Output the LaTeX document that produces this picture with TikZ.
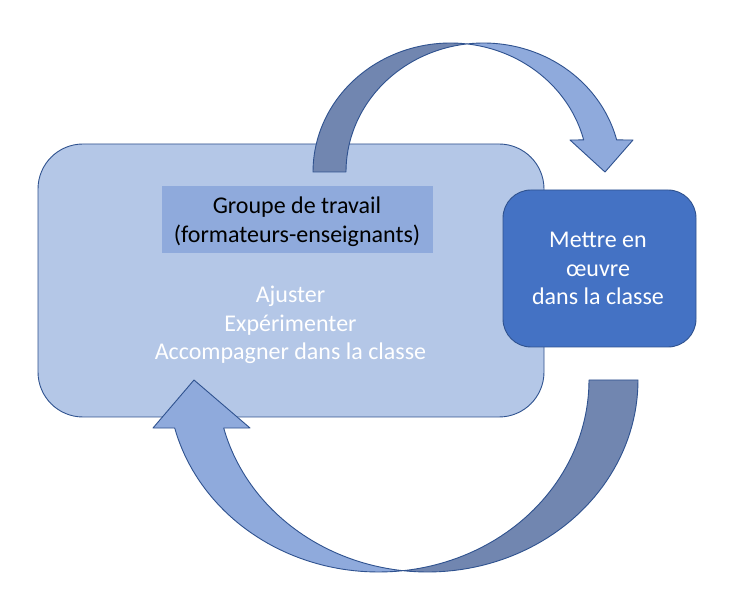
\documentclass[tikz,border=0pt]{standalone}
\usepackage{fontspec}
\setmainfont{Carlito}
\usepackage{tikz}
\definecolor{fondclair}{HTML}{B4C7E7}
\definecolor{bleumoyen}{HTML}{8FAADC}
\definecolor{bleufonce}{HTML}{4472C4}
\definecolor{contour}{HTML}{2F528F}
\definecolor{ombre}{HTML}{7186B0}

\begin{document}
\begin{tikzpicture}[line cap=round,line join=round,x=1pt,y=-1pt,
    texte/.style={anchor=base,inner sep=0pt,font=\fontsize{24}{29}\selectfont},
    fleche/.style={draw=contour,line width=0.9pt}]

    \fill[white] (0,0) rectangle (731,609);
    \useasboundingbox (0,0) rectangle (731,609);

    % grand cadre
    \node[draw=contour,line width=0.9pt,fill=fondclair,rounded corners=45pt,
          minimum width=506pt,minimum height=273pt] (groupe) at (291,280.5) {};
    \node[fill=bleumoyen,minimum width=271pt,minimum height=67pt] (titre) at (297.5,219.5) {};
    \node[texte] (t1) at (297,214) {Groupe de travail};
    \node[texte] (t2) at (297,243) {(formateurs-enseignants)};

    \node[texte,white] (a1) at (290.5,303) {Ajuster};
    \node[texte,white] (a2) at (290.5,332) {Expérimenter};
    \node[texte,white] (a3) at (290.5,360) {Accompagner dans la classe};

    % cadre de droite
    \node[draw=contour,line width=0.9pt,fill=bleufonce,rounded corners=28pt,
          minimum width=193pt,minimum height=157pt] (classe) at (599.5,268.5) {};
    \node[texte,white] (m1) at (598,248) {Mettre en};
    \node[texte,white] (m2) at (598,277) {œuvre};
    \node[texte,white] (m3) at (598,305) {dans la classe};

    % fleche du haut
    \draw[fleche,fill=ombre] plot[domain=180:276.9,samples=50] ({450.5+137.5*cos(\x)},{172+129*sin(\x)})
        -- plot[domain=263.1:180,samples=50] ({483.5+137.5*cos(\x)},{172+129*sin(\x)}) -- cycle;
    \draw[fleche,fill=bleumoyen] plot[domain=263.1:345.6,samples=50] ({483.5+137.5*cos(\x)},{172+129*sin(\x)})
        -- (633,140) -- (605,172) -- (570,140)
        -- plot[domain=345.6:276.9,samples=50] ({450.5+137.5*cos(\x)},{172+129*sin(\x)}) -- cycle;

    % fleche du bas
    \draw[fleche,fill=ombre] plot[domain=0:96.68,samples=50] ({427.5+210.5*cos(\x)},{380+192*sin(\x)})
        -- plot[domain=83.32:0,samples=50] ({378.5+210.5*cos(\x)},{380+192*sin(\x)}) -- cycle;
    \draw[fleche,fill=bleumoyen] plot[domain=83.32:165.52,samples=50] ({378.5+210.5*cos(\x)},{380+192*sin(\x)})
        -- (153,428) -- (194,380) -- (250,428)
        -- plot[domain=165.52:96.68,samples=50] ({427.5+210.5*cos(\x)},{380+192*sin(\x)}) -- cycle;
\end{tikzpicture}
\end{document}
